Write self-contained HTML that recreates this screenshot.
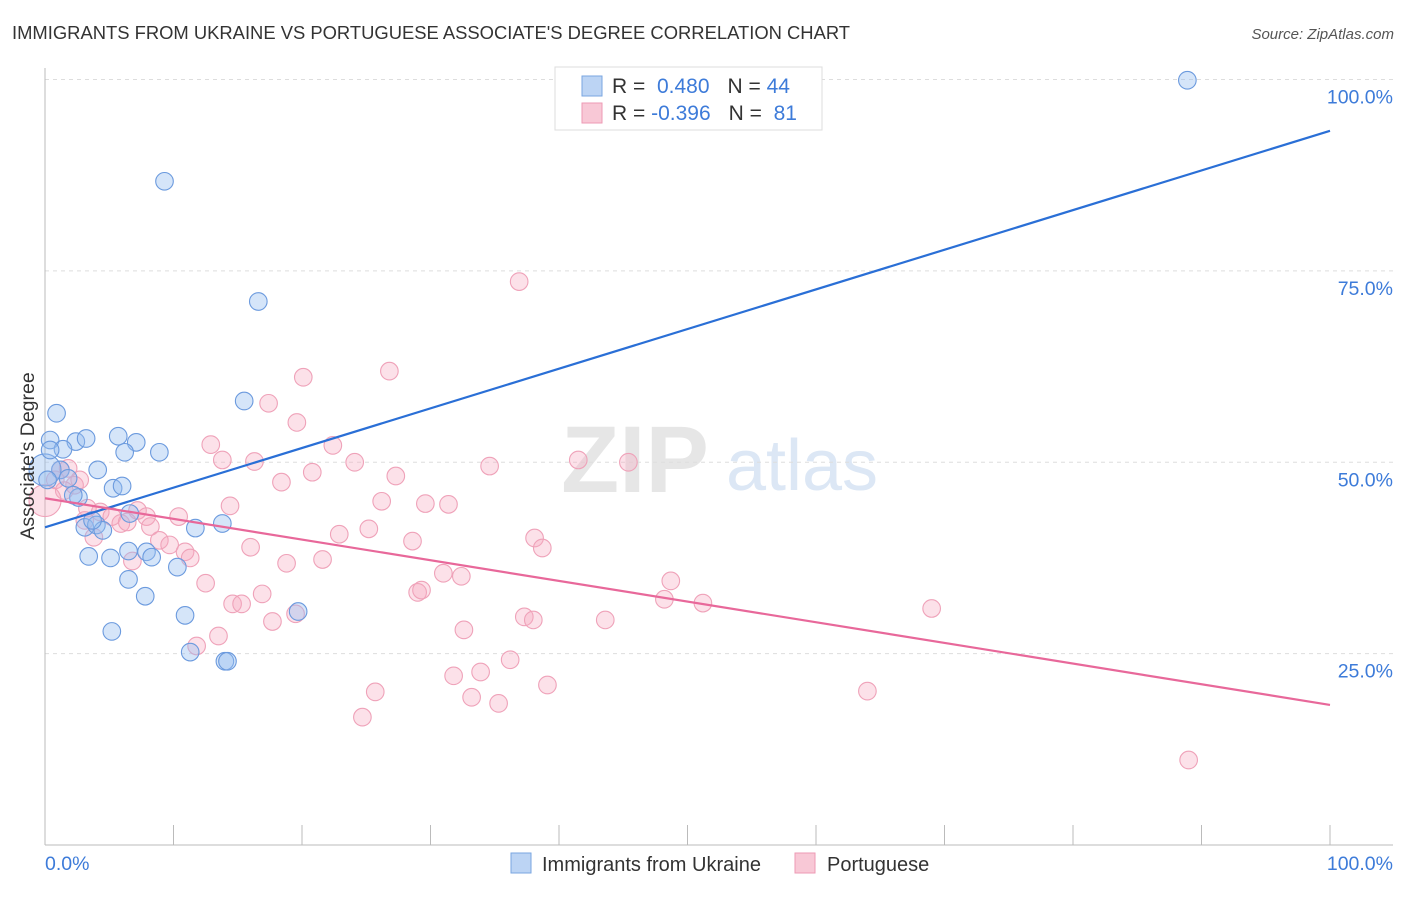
<!DOCTYPE html>
<html><head><meta charset="utf-8">
<style>
body{margin:0;background:#fff;font-family:"Liberation Sans",sans-serif;}
svg text{font-family:"Liberation Sans",sans-serif;}
</style></head>
<body>
<svg id="chart" width="1406" height="892" xmlns="http://www.w3.org/2000/svg">
<text x="12" y="39" font-size="18.4" fill="#333">IMMIGRANTS FROM UKRAINE VS PORTUGUESE ASSOCIATE'S DEGREE CORRELATION CHART</text>
<text x="1394" y="39" font-size="15" fill="#555" font-style="italic" text-anchor="end">Source: ZipAtlas.com</text>
<g>
<text x="635" y="492" font-size="95" fill="#e6e6e6" font-family="Liberation Serif" text-anchor="middle" font-weight="bold">ZIP</text>
<text x="802" y="490" font-size="72" fill="#dce7f5" text-anchor="middle">atlas</text>
</g>
<g id="grid"></g>
<g id="axes"></g>
<g id="pts"></g>
<g id="trends"></g>
<text transform="translate(34,456) rotate(-90)" font-size="19.5" fill="#333" text-anchor="middle">Associate's Degree</text>
<text x="45" y="870" font-size="19.5" fill="#3d7bd9">0.0%</text>
<text x="1393" y="870" font-size="19.5" fill="#3d7bd9" text-anchor="end">100.0%</text>
<g>
<rect x="555" y="67" width="267" height="63" fill="#fff" stroke="#ddd"/>
<rect x="582" y="76" width="20" height="20" fill="#bcd4f4" stroke="#7aa6e0"/>
<rect x="582" y="103" width="20" height="20" fill="#f8c8d6" stroke="#ee9ab4"/>
<text x="612" y="93" font-size="21" fill="#333">R = <tspan fill="#3d7bd9">&#160;0.480</tspan><tspan dx="18">N = </tspan><tspan fill="#3d7bd9">44</tspan></text>
<text x="612" y="120" font-size="21" fill="#333">R = <tspan fill="#3d7bd9">-0.396</tspan><tspan dx="18">N = </tspan><tspan fill="#3d7bd9">&#160;81</tspan></text>
</g>
<g>
<rect x="511" y="853" width="20" height="20" fill="#bcd4f4" stroke="#7aa6e0"/>
<text x="542" y="871" font-size="20" fill="#333">Immigrants from Ukraine</text>
<rect x="795" y="853" width="20" height="20" fill="#f8c8d6" stroke="#ee9ab4"/>
<text x="827" y="871" font-size="20" fill="#333">Portuguese</text>
</g>
</svg>
<script>
const yTicks=[25,50,75,100];
const yTickLabels=["25.0%","50.0%","75.0%","100.0%"];
const xTicks=[0,10,20,30,40,50,60,70,80,90,100];
const blueX=[88.9,9.3,16.6,15.5,0.9,0.4,2.4,3.2,5.7,7.1,6.2,8.9,1.4,4.1,1.2,1.8,5.3,6.0,2.6,2.2,13.8,11.7,3.1,4.0,4.5,6.6,3.4,5.1,6.5,7.9,8.3,6.5,10.3,7.8,10.9,19.7,5.2,11.3,14.0,14.2,0,0.4,0.2,3.7];
const blueY=[99.9,86.7,71.0,58.0,56.4,52.9,52.7,53.1,53.4,52.6,51.3,51.3,51.7,49.0,49.0,47.9,46.6,46.9,45.4,45.7,42.0,41.4,41.5,41.8,41.1,43.3,37.7,37.5,38.4,38.3,37.6,34.7,36.3,32.5,30.0,30.5,27.9,25.2,24.0,24.0,49.0,51.6,47.7,42.4];
const pinkX=[36.9,26.8,20.1,17.4,19.6,12.9,22.4,13.8,16.3,24.1,34.6,41.5,45.4,20.8,27.3,18.4,26.2,29.6,31.4,14.4,1.2,1.8,0.8,2.3,1.5,0,3.3,4.3,5.2,5.9,7.2,7.9,8.2,10.4,8.9,9.7,10.9,11.3,16.0,22.9,25.2,28.6,38.1,38.7,3.8,6.8,18.8,21.6,31.0,32.4,12.5,48.7,48.2,51.2,14.6,15.3,16.9,19.5,17.7,29.0,29.3,69.0,37.3,38.0,43.6,32.6,13.5,11.8,36.2,33.9,31.8,25.7,39.1,33.2,35.3,24.7,64.0,89.0,2.7,3.1,6.4];
const pinkY=[73.6,61.9,61.1,57.7,55.2,52.3,52.2,50.3,50.1,50.0,49.5,50.3,50.0,48.7,48.2,47.4,44.9,44.6,44.5,44.3,49.0,49.2,47.7,47.0,46.3,45.0,44.0,43.5,42.9,42.0,43.7,42.9,41.6,42.9,39.8,39.2,38.3,37.5,38.9,40.6,41.3,39.7,40.1,38.8,40.2,37.1,36.8,37.3,35.5,35.1,34.2,34.5,32.1,31.6,31.5,31.5,32.8,30.2,29.2,33.0,33.3,30.9,29.8,29.4,29.4,28.1,27.3,26.0,24.2,22.6,22.1,20.0,20.9,19.3,18.5,16.7,20.1,11.1,47.7,42.4,42.2];
const blueTrend=[41.5,93.3];
const pinkTrend=[45.3,18.3];
const X=v=>45+v*12.85, Y=v=>845-v*7.655;
const NS="http://www.w3.org/2000/svg";
function mk(t,a,p){const e=document.createElementNS(NS,t);for(const k in a)e.setAttribute(k,a[k]);p.appendChild(e);return e;}
const grid=document.getElementById('grid'),axes=document.getElementById('axes'),pts=document.getElementById('pts'),tr=document.getElementById('trends');
yTicks.forEach((t,i)=>{
 const l=mk('line',{x1:45,x2:1393,y1:Y(t),y2:Y(t),stroke:'#ddd','stroke-dasharray':'4,4'},grid);
 
 
 const tx=mk('text',{x:1393,y:Y(t)+24,'font-size':19.5,fill:'#3d7bd9','text-anchor':'end'},axes);
 tx.textContent=yTickLabels[i];
 
 
});
const ya=mk('line',{x1:45,x2:45,y1:68,y2:845,stroke:'#bbb'},axes);


const xa=mk('line',{x1:45,x2:1393,y1:845,y2:845,stroke:'#bbb'},axes);


xTicks.forEach(t=>{
 const l=mk('line',{x1:X(t),x2:X(t),y1:825,y2:845,stroke:'#bbb'},axes);
 
 
});
function dots(xs,ys,fill,stroke,name,bigIdx){
 xs.forEach((x,i)=>{
  const c=mk('circle',{cx:X(x),cy:Y(ys[i]),r:i===bigIdx?16:8.8,fill:fill,stroke:stroke,'stroke-width':1.1},pts);
  
  
 });
}
dots(pinkX,pinkY,'rgba(246,170,192,0.35)','#efa2b9','portuguese-point',25);
dots(blueX,blueY,'rgba(150,190,240,0.4)','#6b9ade','ukraine-point',40);
const bl=mk('line',{x1:X(0),y1:Y(blueTrend[0]),x2:X(100),y2:Y(blueTrend[1]),stroke:'#2a6fd6','stroke-width':2.2},tr);


const pl=mk('line',{x1:X(0),y1:Y(pinkTrend[0]),x2:X(100),y2:Y(pinkTrend[1]),stroke:'#e8689a','stroke-width':2.2},tr);


</script>
</body></html>
